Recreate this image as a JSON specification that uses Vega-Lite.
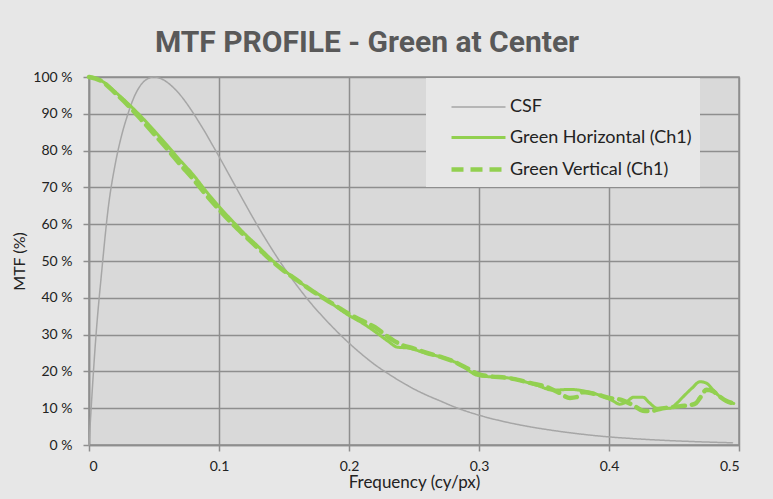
{
  "$schema": "https://vega.github.io/schema/vega-lite/v6.json",
  "width": 650,
  "height": 368,
  "autosize": {"type": "none"},
  "padding": {"left": 89, "top": 77, "right": 34, "bottom": 54},
  "background": "#e7e7e7",
  "title": {
    "text": "MTF PROFILE - Green at Center",
    "font": "Roboto",
    "fontSize": 30,
    "fontWeight": "bold",
    "color": "#595959",
    "anchor": "middle",
    "dx": -47,
    "offset": 12
  },
  "config": {
    "view": {"fill": "#d9d9d9", "stroke": "#8e8e8e", "strokeWidth": 1.5},
    "axis": {
      "labelFont": "Lato",
      "titleFont": "Lato",
      "labelFontSize": 14,
      "labelColor": "#222222",
      "titleColor": "#222222",
      "titleFontWeight": "normal",
      "gridColor": "#8e8e8e",
      "gridWidth": 1.5,
      "gridOpacity": 1,
      "domainColor": "#8e8e8e",
      "domainWidth": 1.5,
      "tickColor": "#8e8e8e",
      "tickWidth": 1.5,
      "tickSize": 6
    },
    "legend": {
      "labelFont": "Lato",
      "labelFontSize": 18,
      "labelColor": "#222222",
      "labelLimit": 300
    }
  },
  "data": {
    "values": [
      {"s": "CSF", "f": 0, "v": 0},
      {"s": "CSF", "f": 0.002, "v": 12},
      {"s": "CSF", "f": 0.005, "v": 28},
      {"s": "CSF", "f": 0.01, "v": 48},
      {"s": "CSF", "f": 0.015, "v": 65},
      {"s": "CSF", "f": 0.02, "v": 76},
      {"s": "CSF", "f": 0.025, "v": 84},
      {"s": "CSF", "f": 0.03, "v": 90},
      {"s": "CSF", "f": 0.035, "v": 94.8},
      {"s": "CSF", "f": 0.04, "v": 97.9},
      {"s": "CSF", "f": 0.045, "v": 99.5},
      {"s": "CSF", "f": 0.05, "v": 100},
      {"s": "CSF", "f": 0.055, "v": 99.6},
      {"s": "CSF", "f": 0.06, "v": 98.6},
      {"s": "CSF", "f": 0.065, "v": 97.1},
      {"s": "CSF", "f": 0.07, "v": 95.2},
      {"s": "CSF", "f": 0.075, "v": 92.9},
      {"s": "CSF", "f": 0.08, "v": 90.3},
      {"s": "CSF", "f": 0.085, "v": 87.5},
      {"s": "CSF", "f": 0.09, "v": 84.6},
      {"s": "CSF", "f": 0.095, "v": 81.5},
      {"s": "CSF", "f": 0.1, "v": 78.4},
      {"s": "CSF", "f": 0.11, "v": 72},
      {"s": "CSF", "f": 0.12, "v": 65.6},
      {"s": "CSF", "f": 0.13, "v": 59.4},
      {"s": "CSF", "f": 0.14, "v": 53.6},
      {"s": "CSF", "f": 0.15, "v": 48.2},
      {"s": "CSF", "f": 0.16, "v": 43.3},
      {"s": "CSF", "f": 0.17, "v": 38.8},
      {"s": "CSF", "f": 0.18, "v": 34.8},
      {"s": "CSF", "f": 0.19, "v": 31.1},
      {"s": "CSF", "f": 0.2, "v": 27.7},
      {"s": "CSF", "f": 0.21, "v": 24.6},
      {"s": "CSF", "f": 0.22, "v": 21.8},
      {"s": "CSF", "f": 0.23, "v": 19.4},
      {"s": "CSF", "f": 0.24, "v": 17.2},
      {"s": "CSF", "f": 0.25, "v": 15.2},
      {"s": "CSF", "f": 0.26, "v": 13.5},
      {"s": "CSF", "f": 0.27, "v": 12.0},
      {"s": "CSF", "f": 0.28, "v": 10.5},
      {"s": "CSF", "f": 0.29, "v": 9.2},
      {"s": "CSF", "f": 0.3, "v": 8.1},
      {"s": "CSF", "f": 0.32, "v": 6.3},
      {"s": "CSF", "f": 0.34, "v": 4.9},
      {"s": "CSF", "f": 0.36, "v": 3.8},
      {"s": "CSF", "f": 0.38, "v": 2.9},
      {"s": "CSF", "f": 0.4, "v": 2.2},
      {"s": "CSF", "f": 0.42, "v": 1.7},
      {"s": "CSF", "f": 0.44, "v": 1.3},
      {"s": "CSF", "f": 0.46, "v": 1.0},
      {"s": "CSF", "f": 0.48, "v": 0.75},
      {"s": "CSF", "f": 0.495, "v": 0.6},

      {"s": "Green Horizontal (Ch1)", "f": 0, "v": 100},
      {"s": "Green Horizontal (Ch1)", "f": 0.005, "v": 99.7},
      {"s": "Green Horizontal (Ch1)", "f": 0.01, "v": 98.9},
      {"s": "Green Horizontal (Ch1)", "f": 0.02, "v": 96},
      {"s": "Green Horizontal (Ch1)", "f": 0.03, "v": 92.8},
      {"s": "Green Horizontal (Ch1)", "f": 0.04, "v": 89.3},
      {"s": "Green Horizontal (Ch1)", "f": 0.05, "v": 85.5},
      {"s": "Green Horizontal (Ch1)", "f": 0.06, "v": 81.5},
      {"s": "Green Horizontal (Ch1)", "f": 0.07, "v": 77.4},
      {"s": "Green Horizontal (Ch1)", "f": 0.08, "v": 73.5},
      {"s": "Green Horizontal (Ch1)", "f": 0.09, "v": 69},
      {"s": "Green Horizontal (Ch1)", "f": 0.1, "v": 64.8},
      {"s": "Green Horizontal (Ch1)", "f": 0.11, "v": 61},
      {"s": "Green Horizontal (Ch1)", "f": 0.12, "v": 57.3},
      {"s": "Green Horizontal (Ch1)", "f": 0.13, "v": 54},
      {"s": "Green Horizontal (Ch1)", "f": 0.14, "v": 50.5},
      {"s": "Green Horizontal (Ch1)", "f": 0.15, "v": 47.5},
      {"s": "Green Horizontal (Ch1)", "f": 0.16, "v": 44.8},
      {"s": "Green Horizontal (Ch1)", "f": 0.17, "v": 42.3},
      {"s": "Green Horizontal (Ch1)", "f": 0.18, "v": 40.2},
      {"s": "Green Horizontal (Ch1)", "f": 0.19, "v": 37.6},
      {"s": "Green Horizontal (Ch1)", "f": 0.2, "v": 35.2},
      {"s": "Green Horizontal (Ch1)", "f": 0.21, "v": 33.2},
      {"s": "Green Horizontal (Ch1)", "f": 0.22, "v": 30.8},
      {"s": "Green Horizontal (Ch1)", "f": 0.23, "v": 28.2},
      {"s": "Green Horizontal (Ch1)", "f": 0.237, "v": 26.6},
      {"s": "Green Horizontal (Ch1)", "f": 0.247, "v": 26.3},
      {"s": "Green Horizontal (Ch1)", "f": 0.255, "v": 25.4},
      {"s": "Green Horizontal (Ch1)", "f": 0.262, "v": 24.7},
      {"s": "Green Horizontal (Ch1)", "f": 0.275, "v": 23.5},
      {"s": "Green Horizontal (Ch1)", "f": 0.288, "v": 21.3},
      {"s": "Green Horizontal (Ch1)", "f": 0.298, "v": 19.0},
      {"s": "Green Horizontal (Ch1)", "f": 0.306, "v": 18.6},
      {"s": "Green Horizontal (Ch1)", "f": 0.314, "v": 18.4},
      {"s": "Green Horizontal (Ch1)", "f": 0.326, "v": 18.1},
      {"s": "Green Horizontal (Ch1)", "f": 0.332, "v": 17.5},
      {"s": "Green Horizontal (Ch1)", "f": 0.344, "v": 16.3},
      {"s": "Green Horizontal (Ch1)", "f": 0.357, "v": 14.9},
      {"s": "Green Horizontal (Ch1)", "f": 0.37, "v": 15.1},
      {"s": "Green Horizontal (Ch1)", "f": 0.383, "v": 14.5},
      {"s": "Green Horizontal (Ch1)", "f": 0.396, "v": 13.1},
      {"s": "Green Horizontal (Ch1)", "f": 0.403, "v": 12},
      {"s": "Green Horizontal (Ch1)", "f": 0.408, "v": 11.1},
      {"s": "Green Horizontal (Ch1)", "f": 0.413, "v": 11.6},
      {"s": "Green Horizontal (Ch1)", "f": 0.419, "v": 13},
      {"s": "Green Horizontal (Ch1)", "f": 0.426, "v": 13},
      {"s": "Green Horizontal (Ch1)", "f": 0.431, "v": 11.5},
      {"s": "Green Horizontal (Ch1)", "f": 0.437, "v": 10},
      {"s": "Green Horizontal (Ch1)", "f": 0.447, "v": 10},
      {"s": "Green Horizontal (Ch1)", "f": 0.452, "v": 11.3},
      {"s": "Green Horizontal (Ch1)", "f": 0.457, "v": 13.1},
      {"s": "Green Horizontal (Ch1)", "f": 0.464, "v": 15.5},
      {"s": "Green Horizontal (Ch1)", "f": 0.47, "v": 17.2},
      {"s": "Green Horizontal (Ch1)", "f": 0.475, "v": 16.8},
      {"s": "Green Horizontal (Ch1)", "f": 0.48, "v": 15},
      {"s": "Green Horizontal (Ch1)", "f": 0.4854, "v": 13.1},
      {"s": "Green Horizontal (Ch1)", "f": 0.49, "v": 12},
      {"s": "Green Horizontal (Ch1)", "f": 0.496, "v": 11.3},

      {"s": "Green Vertical (Ch1)", "f": 0, "v": 100},
      {"s": "Green Vertical (Ch1)", "f": 0.01, "v": 98.8},
      {"s": "Green Vertical (Ch1)", "f": 0.02, "v": 95.7},
      {"s": "Green Vertical (Ch1)", "f": 0.03, "v": 92.3},
      {"s": "Green Vertical (Ch1)", "f": 0.04, "v": 88.5},
      {"s": "Green Vertical (Ch1)", "f": 0.05, "v": 84.5},
      {"s": "Green Vertical (Ch1)", "f": 0.06, "v": 80.5},
      {"s": "Green Vertical (Ch1)", "f": 0.07, "v": 76.3},
      {"s": "Green Vertical (Ch1)", "f": 0.08, "v": 72.3},
      {"s": "Green Vertical (Ch1)", "f": 0.09, "v": 68},
      {"s": "Green Vertical (Ch1)", "f": 0.1, "v": 64},
      {"s": "Green Vertical (Ch1)", "f": 0.11, "v": 60.2},
      {"s": "Green Vertical (Ch1)", "f": 0.12, "v": 56.8},
      {"s": "Green Vertical (Ch1)", "f": 0.13, "v": 53.5},
      {"s": "Green Vertical (Ch1)", "f": 0.14, "v": 50.2},
      {"s": "Green Vertical (Ch1)", "f": 0.15, "v": 47.3},
      {"s": "Green Vertical (Ch1)", "f": 0.16, "v": 44.8},
      {"s": "Green Vertical (Ch1)", "f": 0.17, "v": 42.3},
      {"s": "Green Vertical (Ch1)", "f": 0.18, "v": 40},
      {"s": "Green Vertical (Ch1)", "f": 0.19, "v": 37.8},
      {"s": "Green Vertical (Ch1)", "f": 0.2, "v": 35.6},
      {"s": "Green Vertical (Ch1)", "f": 0.21, "v": 33.8},
      {"s": "Green Vertical (Ch1)", "f": 0.22, "v": 32},
      {"s": "Green Vertical (Ch1)", "f": 0.23, "v": 29.4},
      {"s": "Green Vertical (Ch1)", "f": 0.24, "v": 27.3},
      {"s": "Green Vertical (Ch1)", "f": 0.25, "v": 26.2},
      {"s": "Green Vertical (Ch1)", "f": 0.26, "v": 25},
      {"s": "Green Vertical (Ch1)", "f": 0.27, "v": 24},
      {"s": "Green Vertical (Ch1)", "f": 0.28, "v": 22.8},
      {"s": "Green Vertical (Ch1)", "f": 0.29, "v": 21},
      {"s": "Green Vertical (Ch1)", "f": 0.3, "v": 19.2},
      {"s": "Green Vertical (Ch1)", "f": 0.31, "v": 18.6},
      {"s": "Green Vertical (Ch1)", "f": 0.32, "v": 18.3},
      {"s": "Green Vertical (Ch1)", "f": 0.33, "v": 17.7},
      {"s": "Green Vertical (Ch1)", "f": 0.34, "v": 16.8},
      {"s": "Green Vertical (Ch1)", "f": 0.35, "v": 16},
      {"s": "Green Vertical (Ch1)", "f": 0.36, "v": 14.5},
      {"s": "Green Vertical (Ch1)", "f": 0.37, "v": 12.8},
      {"s": "Green Vertical (Ch1)", "f": 0.375, "v": 13},
      {"s": "Green Vertical (Ch1)", "f": 0.38, "v": 14.4},
      {"s": "Green Vertical (Ch1)", "f": 0.39, "v": 13.8},
      {"s": "Green Vertical (Ch1)", "f": 0.4, "v": 12.8},
      {"s": "Green Vertical (Ch1)", "f": 0.41, "v": 12.2},
      {"s": "Green Vertical (Ch1)", "f": 0.42, "v": 10.5},
      {"s": "Green Vertical (Ch1)", "f": 0.426, "v": 9.3},
      {"s": "Green Vertical (Ch1)", "f": 0.432, "v": 9.2},
      {"s": "Green Vertical (Ch1)", "f": 0.439, "v": 9.8},
      {"s": "Green Vertical (Ch1)", "f": 0.446, "v": 10.2},
      {"s": "Green Vertical (Ch1)", "f": 0.456, "v": 10.6},
      {"s": "Green Vertical (Ch1)", "f": 0.462, "v": 10.8},
      {"s": "Green Vertical (Ch1)", "f": 0.467, "v": 11.4},
      {"s": "Green Vertical (Ch1)", "f": 0.47, "v": 12.8},
      {"s": "Green Vertical (Ch1)", "f": 0.475, "v": 15},
      {"s": "Green Vertical (Ch1)", "f": 0.48, "v": 14.6},
      {"s": "Green Vertical (Ch1)", "f": 0.4854, "v": 13.1},
      {"s": "Green Vertical (Ch1)", "f": 0.49, "v": 12},
      {"s": "Green Vertical (Ch1)", "f": 0.496, "v": 11.3}
    ]
  },
  "mark": {"type": "line", "interpolate": "monotone", "strokeCap": "round", "strokeJoin": "round"},
  "encoding": {
    "x": {
      "field": "f",
      "type": "quantitative",
      "scale": {"domain": [0, 0.5], "nice": false},
      "axis": {
        "values": [0, 0.1, 0.2, 0.3, 0.4, 0.5],
        "labelExpr": "datum.value == 0 ? '0' : format(datum.value, '.1f')",
        "labelPadding": 8,
        "title": "Frequency (cy/px)",
        "titleFontSize": 17,
        "titlePadding": 1
      }
    },
    "y": {
      "field": "v",
      "type": "quantitative",
      "scale": {"domain": [0, 100], "nice": false},
      "axis": {
        "values": [0, 10, 20, 30, 40, 50, 60, 70, 80, 90, 100],
        "labelExpr": "datum.value + ' %'",
        "labelPadding": 11,
        "title": "MTF (%)",
        "titleFontSize": 16,
        "titlePadding": 5
      }
    },
    "color": {
      "field": "s",
      "type": "nominal",
      "scale": {
        "domain": ["CSF", "Green Horizontal (Ch1)", "Green Vertical (Ch1)"],
        "range": ["#a6a6a6", "#92d050", "#92d050"]
      },
      "legend": {
        "title": null,
        "orient": "none",
        "legendX": 337,
        "legendY": 1,
        "symbolType": "M-1.35,0H1.35",
        "symbolSize": 1600,
        "symbolOffset": 22,
        "labelOffset": 9,
        "rowPadding": -6,
        "padding": 8,
        "fillColor": "#e7e7e7"
      }
    },
    "strokeDash": {
      "field": "s",
      "type": "nominal",
      "scale": {
        "domain": ["CSF", "Green Horizontal (Ch1)", "Green Vertical (Ch1)"],
        "range": [[1, 0], [1, 0], [12, 7]]
      },
      "legend": null
    },
    "strokeWidth": {
      "field": "s",
      "type": "nominal",
      "scale": {
        "domain": ["CSF", "Green Horizontal (Ch1)", "Green Vertical (Ch1)"],
        "range": [1.5, 4.5, 4.5]
      },
      "legend": null
    }
  }
}
